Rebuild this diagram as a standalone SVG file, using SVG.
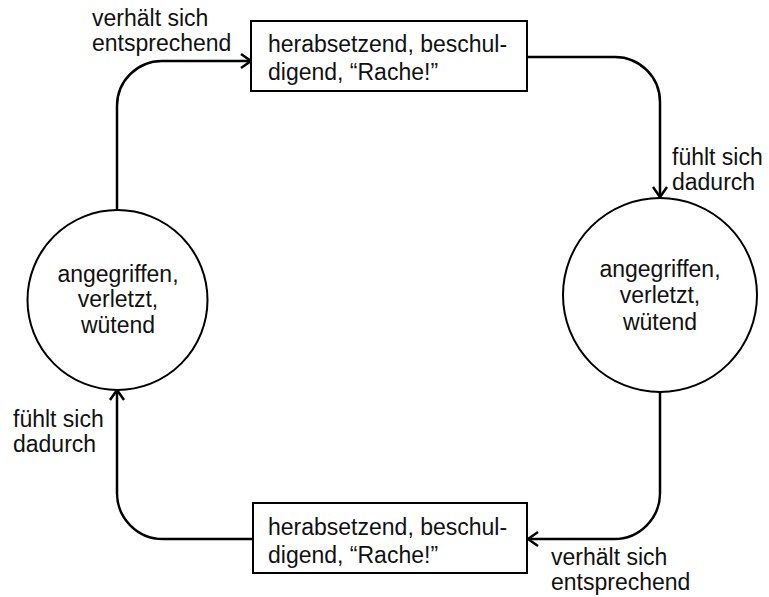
<svg xmlns="http://www.w3.org/2000/svg" width="769" height="597" viewBox="0 0 769 597">
  <style>
    .box { fill: #ffffff; stroke: #000000; stroke-width: 2; }
    .state { fill: #ffffff; stroke: #000000; stroke-width: 2; }
    .edge { fill: none; stroke: #000000; stroke-width: 2.5; marker-end: url(#open-arrow); }
    text { font-family: "Liberation Sans", Arial, sans-serif; font-size: 23px; fill: #111111; }
    .mid { text-anchor: middle; }
  </style>
  <defs>
    <marker id="open-arrow" markerUnits="userSpaceOnUse" markerWidth="24" markerHeight="24" refX="12" refY="12" orient="auto" overflow="visible">
      <path d="M 2 5 L 12 12 L 2 19" fill="none" stroke="#000000" stroke-width="2.5"/>
    </marker>
  </defs>

  <!-- connectors -->
  <g id="connectors">
    <path class="edge" d="M 117 210 L 117 106 A 45 45 0 0 1 162 61 L 251 61"/>
    <path class="edge" d="M 527 57 L 615 57 A 45 45 0 0 1 660 102 L 660 197"/>
    <path class="edge" d="M 660 393 L 660 493 A 46 46 0 0 1 614 539 L 528 539"/>
    <path class="edge" d="M 253 539 L 163 539 A 46 46 0 0 1 117 493 L 117 390"/>
  </g>

  <!-- connector labels -->
  <g id="labels">
    <text x="92" y="26">verhält sich</text>
    <text x="92" y="51">entsprechend</text>
    <text x="672" y="165">fühlt sich</text>
    <text x="672" y="190">dadurch</text>
    <text x="551" y="565">verhält sich</text>
    <text x="551" y="590">entsprechend</text>
    <text x="13" y="427">fühlt sich</text>
    <text x="13" y="452">dadurch</text>
  </g>

  <!-- top action box -->
  <g id="action-top">
    <rect class="box" x="251" y="21" width="276" height="70"/>
    <text x="268" y="52">herabsetzend, beschul-</text>
    <text x="268" y="80">digend, “Rache!”</text>
  </g>

  <!-- right feeling circle -->
  <g id="feeling-right">
    <circle class="state" cx="660" cy="295" r="97"/>
    <text class="mid" x="660" y="277">angegriffen,</text>
    <text class="mid" x="660" y="303">verletzt,</text>
    <text class="mid" x="660" y="330">wütend</text>
  </g>

  <!-- bottom action box -->
  <g id="action-bottom">
    <rect class="box" x="253" y="503" width="274" height="70"/>
    <text x="268" y="535">herabsetzend, beschul-</text>
    <text x="268" y="563">digend, “Rache!”</text>
  </g>

  <!-- left feeling circle -->
  <g id="feeling-left">
    <circle class="state" cx="117.5" cy="300" r="90"/>
    <text class="mid" x="118" y="282">angegriffen,</text>
    <text class="mid" x="118" y="307">verletzt,</text>
    <text class="mid" x="118" y="333">wütend</text>
  </g>
</svg>
